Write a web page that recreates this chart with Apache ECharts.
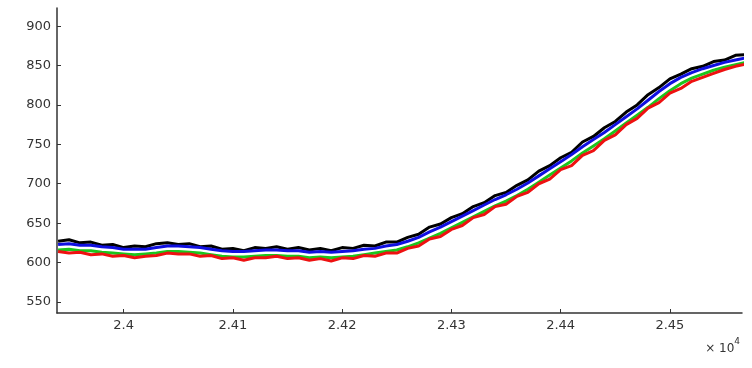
<!DOCTYPE html>
<html>
<head>
<meta charset="utf-8">
<script src="https://cdn.jsdelivr.net/npm/echarts@6/dist/echarts.min.js"></script>
<style>
  html, body { margin: 0; padding: 0; background: #fff; }
  #chart { width: 752px; height: 368px; }
</style>
</head>
<body>
<div id="chart"></div>
<script>
// x positions (samples)
var xs = [23940,23950,23960,23970,23980,23990,24000,24010,24020,24030,24040,24050,24060,24070,24080,24090,
  24100,24110,24120,24130,24140,24150,24160,24170,24180,24190,24200,24210,24220,24230,24240,24250,
  24260,24270,24280,24290,24300,24310,24320,24330,24340,24350,24360,24370,24380,24390,24400,24410,
  24420,24430,24440,24450,24460,24470,24480,24490,24500,24510,24520,24530,24540,24550,24560,24570];

var blackVals = [627,629,625,626,622,623,619,621,620,624,625,623,624,620,621,617,
  618,615,619,618,620,617,619,616,618,615,619,618,622,621,626,626,
  632,636,645,649,657,662,671,676,685,689,698,705,716,723,733,740,
  753,760,771,779,791,800,813,822,833,839,846,849,855,857,863,864];

var blueVals = [623,624,622,622,620,619,617,617,617,619,621,621,620,619,617,615,
  614,614,615,616,616,615,615,613,614,613,614,615,617,618,621,623,
  627,632,639,645,652,659,666,673,680,686,693,701,710,719,728,737,
  747,756,765,775,785,795,806,817,827,835,841,846,850,854,857,860];

var greenVals = [616,617,615,615,613,612,611,610,611,612,614,614,613,612,610,608,
  607,607,608,609,609,608,608,606,607,606,607,608,610,612,614,616,
  620,625,631,637,644,651,658,665,672,678,685,693,702,711,720,729,
  739,748,757,767,777,787,797,808,818,827,834,839,844,848,851,854];

var redVals = [614,612,613,610,611,608,609,606,608,609,612,611,611,608,609,605,
  606,603,606,606,608,605,606,603,605,602,606,605,609,608,612,612,
  618,621,630,633,642,647,657,661,671,674,684,689,700,706,718,723,
  736,742,755,762,775,783,796,803,815,821,830,835,840,845,849,852];

var xTicks = [24000,24100,24200,24300,24400,24500];
var yTicks = [550,600,650,700,750,800,850,900];

function pairs(vals) {
  return xs.map(function (x, i) { return [x, vals[i]]; });
}

function mkSeries(name, vals, color) {
  return {
    name: name,
    type: 'line',
    data: pairs(vals),
    showSymbol: false,
    lineStyle: { color: color, width: 3 },
    itemStyle: { color: color },
    animation: false
  };
}

var chart = echarts.init(document.getElementById('chart'));

var labelFont = { fontFamily: 'DejaVu Sans', fontSize: 13, color: '#333' };

chart.setOption({
  backgroundColor: '#fff',
  grid: { left: 57, right: 10, top: 8, bottom: 55 },
  xAxis: {
    type: 'value',
    min: 23939,
    max: 24566,
    axisLine: { lineStyle: { color: '#333', width: 1.5 } },
    axisTick: { inside: true, length: 4, customValues: xTicks, lineStyle: { color: '#333' } },
    axisLabel: Object.assign({
      customValues: xTicks,
      margin: 6,
      formatter: function (v) { return String(+(v / 10000).toFixed(2)); }
    }, labelFont),
    splitLine: { show: false }
  },
  yAxis: {
    type: 'value',
    min: 536,
    max: 923,
    axisLine: { show: true, lineStyle: { color: '#333', width: 1.5 } },
    axisTick: { show: true, inside: true, length: 4, customValues: yTicks, lineStyle: { color: '#333' } },
    axisLabel: Object.assign({ customValues: yTicks, margin: 6 }, labelFont),
    splitLine: { show: false }
  },
  graphic: [{
    type: 'text',
    right: 12,
    top: 337,
    style: {
      text: '{a|× 10}{b|4}',
      rich: {
        a: { fontFamily: 'DejaVu Sans', fontSize: 12, fill: '#333', padding: [6, 0, 0, 0] },
        b: { fontFamily: 'DejaVu Sans', fontSize: 9, fill: '#333', verticalAlign: 'top' }
      }
    }
  }],
  series: [
    mkSeries('green', greenVals, '#1cc51c'),
    mkSeries('red', redVals, '#ee1111'),
    mkSeries('black', blackVals, '#000000'),
    mkSeries('blue', blueVals, '#1010e0')
  ]
});
</script>
</body>
</html>
